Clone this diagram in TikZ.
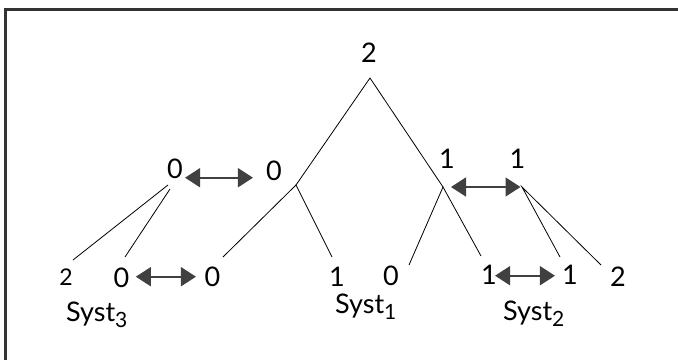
\documentclass[tikz,border=0pt]{standalone}
\usepackage{fontspec}
\setmainfont{Lato}
\usetikzlibrary{arrows.meta}
\newcommand{\sysub}[1]{\raisebox{-6pt}{\fontsize{21}{25}\selectfont #1}}

\begin{document}
\begin{tikzpicture}[x=1pt,y=-1pt,
  every node/.style={inner sep=0pt, font=\fontsize{27}{32}\selectfont},
  small/.style={font=\fontsize{23}{27}\selectfont}]
\tikzstyle{link}=[line width=0.8pt]
\tikzstyle{swap}=[line width=1.6pt, draw=black!75, {Triangle[length=15pt,width=19pt]}-{Triangle[length=15pt,width=19pt]}]
\useasboundingbox (0,0) rectangle (678,360);
% frame
\draw [line width=3pt, black!80] (678,9) -- (5.5,9) -- (5.5,360);

% Syst1
\node (top) at (369,53) {2};
\node (m0) at (274,171) {0};
\node (m1) at (447,159) {1};
\node (l0) at (212.5,277) {0};
\node (l1) at (337,277) {1};
\node (r0) at (391,276) {0};
\node (r1) at (489,275) {1};
\coordinate (apex) at (370,78);
\coordinate (lb) at (296,185);
\coordinate (rb) at (443,187);
\coordinate (lb1) at (223,257);
\coordinate (lb2) at (332,257);
\coordinate (rb1) at (409,265);
\coordinate (rb2) at (481,256);
\draw [link] (lb) -- (apex) -- (rb);
\draw [link] (lb1) -- (lb) -- (lb2);
\draw [link] (rb1) -- (rb) -- (rb2);
\node [anchor=base west] (syst1) at (335,313) {Syst\sysub{1}};

% Syst2
\node (s2) at (517.5,159) {1};
\node (s2a) at (570,275) {1};
\node (s2b) at (618,277) {2};
\coordinate (s2r) at (522,187);
\coordinate (s2r1) at (560,257);
\coordinate (s2r2) at (601,265);
\draw [link] (s2r1) -- (s2r) -- (s2r2);
\node [anchor=base west] (syst2) at (503,320) {Syst\sysub{2}};

% Syst3
\node (s3) at (175,169) {0};
\node [small] (s3a) at (66,277) {2};
\node (s3b) at (121.5,277.5) {0};
\coordinate (s3r) at (168,185);
\coordinate (s3q) at (170,189);
\coordinate (s3r1) at (73,260);
\coordinate (s3q1) at (125,257);
\draw [link] (s3r) -- (s3r1);
\draw [link] (s3q) -- (s3q1);
\node [anchor=base west] (syst3) at (66,321) {Syst\sysub{3}};

% correspondences
\draw [swap] ([shift={(2,8.7)}]s3.east) -- ([shift={(-13,6.7)}]m0.west);
\draw [swap] ([xshift=8pt]rb) -- ([xshift=-1.5pt]s2r);
\draw [swap] ([shift={(6.3,-0.8)}]s3b.east) -- ([shift={(-8.5,-0.3)}]l0.west);
\draw [swap] ([shift={(-2,0.7)}]r1.east) -- ([shift={(-7,0.7)}]s2a.west);
\end{tikzpicture}
\end{document}
